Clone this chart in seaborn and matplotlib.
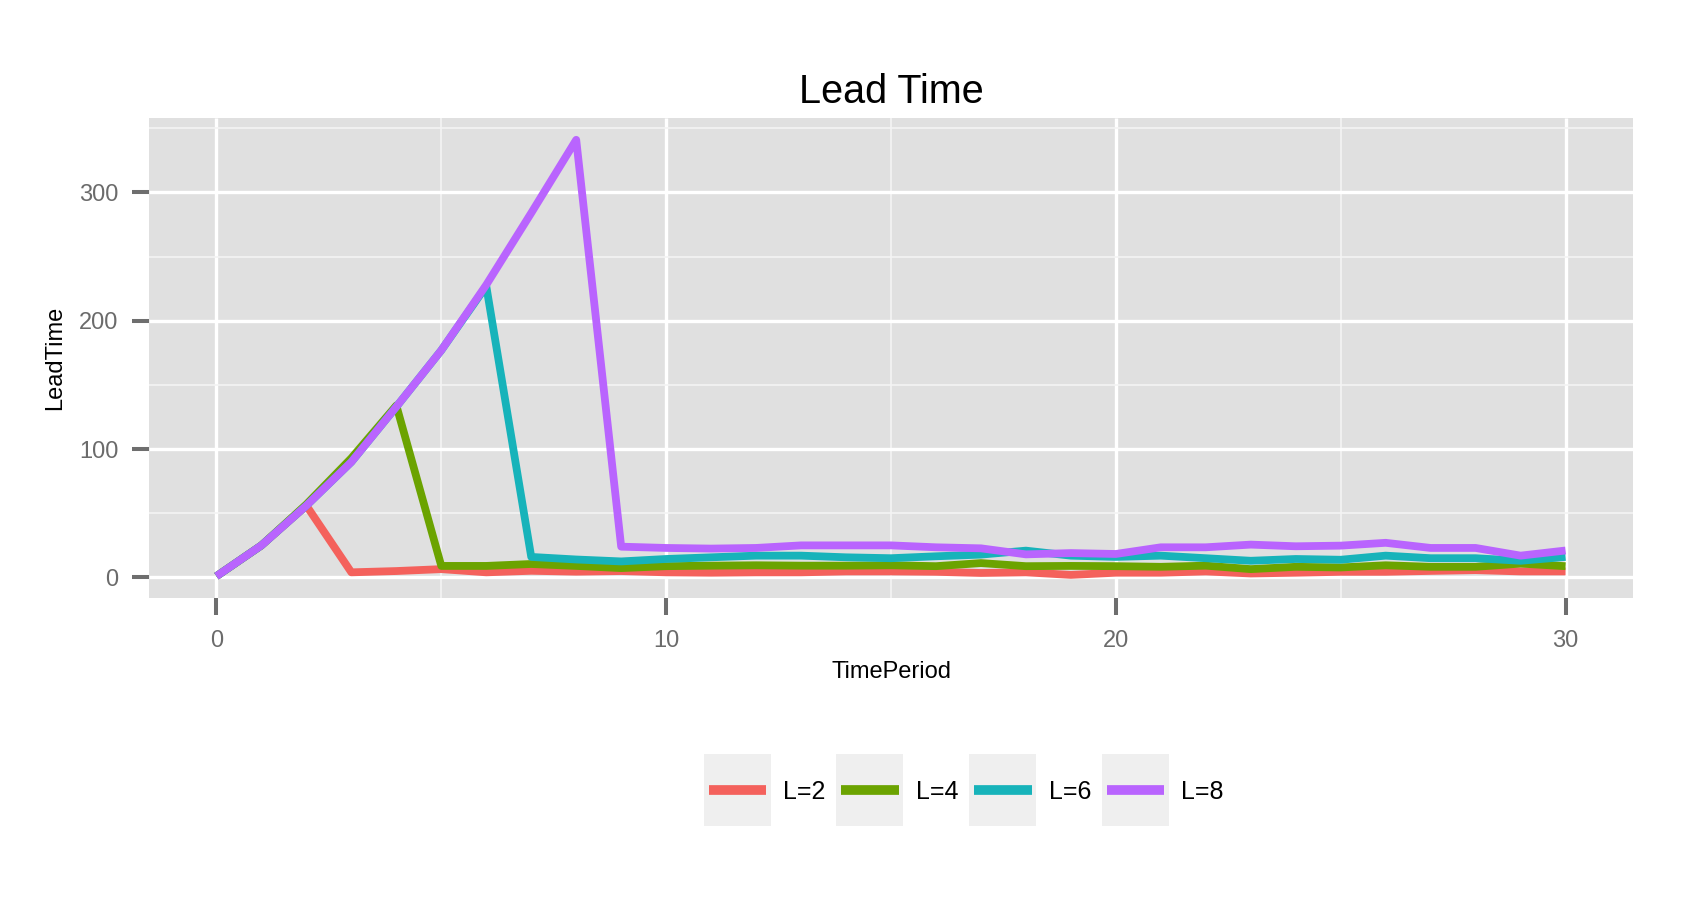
import pandas as pd
import matplotlib
matplotlib.use("Agg")
import matplotlib.pyplot as plt
import seaborn as sns
from matplotlib.ticker import MultipleLocator
from matplotlib.patches import Rectangle
from matplotlib.lines import Line2D
from matplotlib.legend_handler import HandlerBase

# data
periods = list(range(31))
lead_l2 = [1, 25, 56, 4, 5, 6.5, 4, 5.2, 4.5, 5, 4, 3.7, 4, 4, 4.7, 4.7,
           4.4, 3.5, 4, 2, 3.7, 3.7, 4.7, 3.1, 3.7, 4.4, 4.4, 5.1, 5.7, 4.7, 4.7]
lead_l4 = [1, 25, 57, 93, 134, 9, 9, 10.5, 9, 7.3, 8.8, 9.2, 9.5, 9.2, 9.2, 9.5,
           8.8, 11.2, 8.8, 9, 8.8, 8.3, 9.2, 6.5, 8.3, 7.8, 9.5, 8.3, 8.3, 10.8, 8.8]
lead_l6 = [1, 25, 56, 90, 133, 177, 227, 16, 14, 12.5, 14.4, 15.7, 17, 17, 15.7, 15,
           16.5, 17.8, 20.9, 17, 16, 17, 15, 13, 14.4, 13.8, 17, 15, 15, 13, 16]
lead_l8 = [1, 25, 56, 90, 133, 177, 228, 284, 341, 24, 23, 22.5, 23, 25, 25, 25,
           23.5, 22.7, 18, 19, 18.3, 23.5, 23.5, 25.6, 24.3, 24.8, 27, 23, 23, 17, 21]
series_labels = ["L=2", "L=4", "L=6", "L=8"]
series_colors = ["#F4615C", "#6BA300", "#17B3BA", "#B964FE"]

frames = []
for lab, vals in zip(series_labels, [lead_l2, lead_l4, lead_l6, lead_l8]):
    frames.append(pd.DataFrame({"TimePeriod": periods, "LeadTime": vals, "L": lab}))
df = pd.concat(frames, ignore_index=True)

# style: ggplot-like grey panel
sns.set_theme(style="darkgrid", rc={
    "axes.facecolor": "#E0E0E0",
    "grid.color": "white",
    "lines.solid_capstyle": "butt",
    "text.color": "black",
    "axes.labelcolor": "black",
})
plt.rcParams["font.family"] = ["Liberation Sans", "DejaVu Sans"]

W, H = 1691, 914
fig = plt.figure(figsize=(W / 100, H / 100), dpi=100)
ax = fig.add_axes([149 / W, (H - 598) / H, (1633 - 149) / W, (598 - 118) / H])

sns.lineplot(data=df, x="TimePeriod", y="LeadTime", hue="L", hue_order=series_labels,
             palette=dict(zip(series_labels, series_colors)), linewidth=5.6,
             legend=False, ax=ax)

# ggplot style expansion (5%)
ymin, ymax = df["LeadTime"].min(), df["LeadTime"].max()
yr = ymax - ymin
ax.set_xlim(-1.5, 31.5)
ax.set_ylim(ymin - 0.05 * yr, ymax + 0.05 * yr)

ax.xaxis.set_major_locator(MultipleLocator(10))
ax.xaxis.set_minor_locator(MultipleLocator(5))
ax.yaxis.set_major_locator(MultipleLocator(100))
ax.yaxis.set_minor_locator(MultipleLocator(50))
ax.grid(which="major", color="white", linewidth=2.4)
ax.grid(which="minor", color="#F4F4F4", linewidth=1.2)
ax.set_axisbelow(True)
for s in ax.spines.values():
    s.set_visible(False)

ax.tick_params(which="major", length=12, width=2.9, color="#6E6E6E",
               labelcolor="#6B6B6B", labelsize=17, bottom=True, left=True)
ax.tick_params(axis="x", pad=11)
ax.tick_params(axis="y", pad=10)
ax.tick_params(which="minor", length=0)

ax.set_title("Lead Time", fontsize=28.5, pad=11, color="black")
ax.set_xlabel("TimePeriod", fontsize=17, va="center")
ax.set_ylabel("LeadTime", fontsize=17, va="center")
ax.xaxis.set_label_coords(0.5, -0.155)
ax.yaxis.set_label_coords(-0.063, 0.5)


# legend key: grey box with a short line in its middle (ggplot look)
class KeyHandler(HandlerBase):
    def create_artists(self, legend, orig_handle, xdescent, ydescent,
                       width, height, fontsize, trans):
        yc = 0.36 * fontsize
        half = 25.9
        box = Rectangle((-xdescent, yc - half), width, 2 * half,
                        facecolor="#EFEFEF", edgecolor="none", transform=trans)
        ln = Line2D([-xdescent + 0.07 * width, -xdescent + 0.93 * width], [yc, yc],
                    color=orig_handle.get_color(), linewidth=7,
                    solid_capstyle="butt", transform=trans)
        return [box, ln]


handles = [Line2D([], [], color=c) for c in series_colors]
fig.legend(handles, series_labels, loc="center", bbox_to_anchor=(0.570, 0.1335),
           ncol=4, frameon=False, handler_map={Line2D: KeyHandler()},
           handlelength=2.68, handleheight=1.0, handletextpad=0.5,
           columnspacing=0.43, fontsize=18, borderaxespad=0, borderpad=0,
           labelcolor="black")

fig.savefig("out.png", dpi=100)
